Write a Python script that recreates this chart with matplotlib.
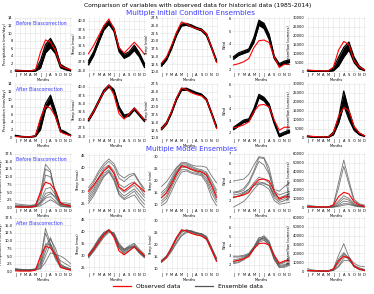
import matplotlib
matplotlib.use("Agg")
import matplotlib.pyplot as plt
from matplotlib.lines import Line2D
from matplotlib.ticker import FormatStrFormatter

months = ['J', 'F', 'M', 'A', 'M', 'J', 'J', 'A', 'S', 'O', 'N', 'D']

# Observed data (same in every row)
obs_precip = [0.2, 0.1, 0.1, 0.1, 0.4, 5.0, 8.2, 7.6, 5.4, 1.4, 0.8, 0.4]
obs_tmax = [30.0, 32.5, 35.5, 38.5, 40.6, 37.5, 31.8, 30.2, 31.8, 33.5, 31.8, 29.8]
obs_tmin = [12.8, 14.8, 18.5, 22.8, 26.2, 25.6, 24.6, 24.0, 23.6, 22.3, 18.0, 13.0]
obs_wind = [2.35, 2.45, 2.6, 2.85, 3.7, 4.25, 4.3, 4.1, 3.0, 2.15, 2.4, 2.4]
obs_flow = [800, 600, 400, 300, 300, 2500, 12000, 16800, 15000, 6000, 2500, 900]

# Multiple initial condition ensembles: lower / middle / upper members
ic_before_precip = [[0.05, 0.0, 0.0, 0.0, 0.05, 0.8, 4.8, 6.2, 4.6, 0.9, 0.4, 0.1],
                    [0.15, 0.1, 0.05, 0.05, 0.1, 1.6, 5.8, 7.2, 5.4, 1.3, 0.7, 0.2],
                    [0.3, 0.2, 0.15, 0.15, 0.3, 2.8, 7.0, 8.6, 6.2, 1.8, 1.0, 0.4]]
ic_after_precip = [[0.3, 0.15, 0.05, 0.05, 0.2, 2.0, 7.3, 9.0, 5.4, 1.4, 1.0, 0.4],
                   [0.4, 0.2, 0.1, 0.1, 0.3, 3.0, 8.0, 9.9, 6.1, 1.7, 1.2, 0.5],
                   [0.5, 0.25, 0.15, 0.15, 0.4, 4.5, 8.8, 11.0, 7.0, 2.0, 1.4, 0.6]]
ic_before_tmax = [[26.6, 29.4, 33.4, 37.2, 39.0, 36.8, 30.6, 28.6, 29.4, 31.0, 29.0, 25.8],
                  [27.2, 30.0, 34.0, 37.8, 39.5, 37.3, 31.2, 29.2, 30.0, 31.8, 29.6, 26.4],
                  [27.8, 30.6, 34.6, 38.4, 40.0, 37.8, 31.8, 29.8, 30.6, 32.6, 30.2, 27.0]]
ic_after_tmax = [[29.6, 32.2, 35.3, 38.4, 40.0, 38.4, 33.0, 30.6, 31.2, 33.0, 31.2, 29.4],
                 [29.9, 32.5, 35.6, 38.7, 40.3, 38.8, 33.5, 31.0, 31.5, 33.3, 31.5, 29.7],
                 [30.2, 32.8, 35.9, 39.0, 40.6, 39.2, 34.0, 31.4, 31.8, 33.6, 31.8, 30.0]]
ic_before_tmin = [[11.8, 13.8, 17.4, 21.8, 24.9, 25.1, 24.6, 23.9, 23.3, 21.7, 17.6, 13.2],
                  [12.2, 14.1, 17.8, 22.2, 25.2, 25.4, 24.9, 24.1, 23.6, 22.0, 17.9, 13.5],
                  [12.6, 14.4, 18.2, 22.6, 25.5, 25.7, 25.2, 24.4, 23.9, 22.4, 18.2, 13.8]]
ic_after_tmin = [[12.6, 14.4, 17.9, 22.3, 25.4, 25.5, 25.0, 24.3, 23.8, 22.1, 17.7, 13.2],
                 [12.9, 14.7, 18.2, 22.6, 25.7, 25.8, 25.2, 24.5, 24.0, 22.4, 18.0, 13.5],
                 [13.2, 15.0, 18.5, 22.9, 26.0, 26.1, 25.4, 24.7, 24.2, 22.7, 18.3, 13.8]]
ic_before_wind = [[2.8, 3.1, 3.25, 3.4, 4.1, 5.45, 5.2, 4.35, 2.85, 2.25, 2.45, 2.55],
                  [2.9, 3.2, 3.35, 3.5, 4.3, 5.65, 5.4, 4.55, 2.95, 2.35, 2.55, 2.65],
                  [3.0, 3.3, 3.45, 3.6, 4.5, 5.85, 5.6, 4.75, 3.05, 2.45, 2.65, 2.75]]
ic_after_wind = [[2.2, 2.5, 2.8, 2.9, 3.65, 4.85, 4.6, 4.05, 2.7, 1.6, 1.8, 1.95],
                 [2.3, 2.6, 2.9, 3.0, 3.8, 5.0, 4.75, 4.2, 2.8, 1.7, 1.9, 2.05],
                 [2.4, 2.7, 3.0, 3.1, 3.95, 5.15, 4.9, 4.35, 2.9, 1.8, 2.0, 2.15]]
ic_before_flow = [[300, 200, 100, 50, 50, 400, 3000, 8000, 12000, 5000, 1500, 500],
                  [450, 300, 200, 100, 150, 1000, 5000, 10500, 14000, 6500, 2200, 750],
                  [600, 400, 300, 200, 300, 2000, 8000, 13500, 16500, 8000, 3000, 1000]]
ic_after_flow = [[400, 250, 150, 50, 100, 1500, 8000, 18000, 10000, 4000, 1500, 600],
                 [600, 350, 200, 100, 200, 2200, 9500, 22000, 12500, 5000, 2000, 800],
                 [800, 450, 300, 200, 300, 3000, 11000, 26000, 15000, 6000, 2500, 1000]]

# Multiple model ensembles: one list per model
mm_before_precip = [[1.2, 1.0, 0.8, 0.7, 0.9, 5.0, 14.0, 12.0, 4.5, 1.5, 1.5, 1.2],
                    [0.8, 0.6, 0.5, 0.5, 0.8, 4.0, 12.5, 11.5, 4.0, 1.2, 1.0, 0.8],
                    [0.5, 0.4, 0.3, 0.3, 0.6, 3.0, 10.5, 10.0, 5.5, 1.5, 0.8, 0.5],
                    [0.3, 0.2, 0.2, 0.2, 0.4, 2.0, 6.0, 6.5, 4.0, 1.0, 0.5, 0.3],
                    [0.2, 0.2, 0.1, 0.1, 0.3, 1.5, 4.5, 5.0, 3.0, 0.8, 0.3, 0.2],
                    [0.2, 0.1, 0.1, 0.1, 0.2, 1.0, 3.0, 3.5, 2.0, 0.5, 0.2, 0.1],
                    [0.1, 0.1, 0.1, 0.1, 0.2, 0.5, 1.5, 2.5, 1.5, 0.4, 0.2, 0.1],
                    [0.4, 0.3, 0.3, 0.3, 0.5, 1.5, 3.5, 4.5, 3.5, 1.0, 1.0, 0.5]]
mm_after_precip = [[0.6, 0.5, 0.5, 0.5, 0.8, 4.0, 14.0, 9.0, 5.0, 1.5, 1.0, 0.6],
                   [0.5, 0.4, 0.4, 0.4, 0.6, 3.0, 12.5, 8.0, 4.0, 1.2, 0.8, 0.5],
                   [0.8, 0.6, 0.5, 0.5, 0.7, 2.0, 8.0, 11.0, 6.0, 2.0, 1.5, 0.8],
                   [0.5, 0.4, 0.3, 0.3, 0.5, 1.5, 6.5, 10.5, 7.5, 2.5, 1.2, 0.6],
                   [0.7, 0.5, 0.4, 0.4, 0.6, 1.0, 5.0, 9.0, 5.5, 5.0, 4.0, 2.5],
                   [0.4, 0.3, 0.3, 0.3, 0.4, 0.8, 3.0, 6.0, 5.5, 3.5, 2.5, 1.5],
                   [0.9, 0.7, 0.6, 0.6, 0.8, 2.5, 9.0, 8.5, 4.5, 1.8, 1.2, 0.9]]
mm_before_tmax = [[31.5, 34.5, 38.5, 41.5, 43.5, 41.5, 37.0, 35.5, 37.0, 37.5, 34.0, 31.0],
                  [30.5, 33.5, 37.5, 40.5, 42.5, 40.5, 35.5, 34.0, 36.0, 37.0, 33.5, 30.0],
                  [29.0, 32.0, 36.0, 39.5, 41.0, 38.5, 33.0, 31.5, 33.0, 34.0, 31.5, 28.5],
                  [28.0, 31.0, 35.0, 38.5, 40.0, 37.5, 31.5, 29.5, 31.0, 32.5, 30.0, 27.5],
                  [27.0, 30.0, 34.0, 37.5, 39.0, 36.0, 30.0, 28.0, 29.5, 31.0, 28.5, 26.0],
                  [26.0, 29.0, 33.0, 36.5, 38.5, 35.0, 29.0, 27.0, 28.5, 30.0, 27.0, 24.5],
                  [25.0, 28.0, 32.0, 36.0, 38.0, 34.5, 28.5, 26.5, 27.5, 28.5, 25.5, 23.0]]
mm_after_tmax = [[30.5, 33.5, 37.0, 39.5, 40.8, 39.0, 34.5, 32.5, 34.0, 35.0, 32.5, 30.5],
                 [30.0, 33.0, 36.5, 39.0, 40.5, 38.5, 34.0, 32.0, 33.5, 34.5, 32.0, 30.0],
                 [29.5, 32.5, 36.0, 39.0, 40.5, 38.0, 33.5, 31.5, 33.0, 34.0, 31.5, 29.5],
                 [29.0, 32.0, 35.5, 38.5, 40.2, 38.5, 33.0, 31.0, 32.5, 34.0, 31.5, 29.5],
                 [29.5, 32.0, 35.0, 38.0, 40.0, 39.0, 34.0, 32.0, 33.0, 33.5, 31.0, 29.0],
                 [29.0, 31.5, 34.5, 37.5, 39.5, 39.5, 35.0, 32.5, 33.5, 33.5, 31.0, 29.5],
                 [30.0, 33.0, 36.5, 39.5, 40.5, 38.0, 33.0, 30.5, 32.0, 33.5, 31.0, 29.0]]
mm_before_tmin = [[17.5, 19.5, 22.5, 25.5, 27.5, 27.5, 26.5, 26.0, 26.0, 25.5, 22.0, 19.0],
                  [15.0, 17.0, 21.0, 25.0, 27.0, 27.0, 26.0, 25.0, 24.5, 23.5, 20.0, 16.0],
                  [14.0, 16.0, 20.0, 24.0, 26.5, 26.5, 25.5, 24.5, 24.0, 23.0, 19.0, 15.0],
                  [13.0, 15.0, 19.5, 23.5, 26.0, 26.0, 25.0, 24.0, 23.5, 22.0, 18.0, 14.0],
                  [11.5, 13.5, 18.0, 22.5, 25.5, 25.5, 24.5, 23.5, 23.0, 21.0, 16.5, 12.0],
                  [10.5, 12.5, 17.0, 21.5, 24.5, 24.5, 23.5, 23.0, 22.5, 20.0, 15.0, 11.0],
                  [9.5, 11.0, 15.5, 20.0, 23.5, 24.0, 23.0, 22.5, 22.0, 19.0, 13.0, 9.5]]
mm_after_tmin = [[13.0, 15.0, 19.0, 23.0, 25.5, 26.0, 25.5, 24.8, 24.5, 23.0, 18.5, 14.0],
                 [13.2, 15.2, 18.5, 22.0, 25.0, 26.0, 25.8, 25.0, 24.5, 23.5, 19.0, 14.5],
                 [12.8, 14.5, 17.5, 21.0, 24.0, 25.5, 25.5, 24.8, 24.5, 23.0, 18.5, 14.0],
                 [13.5, 15.0, 18.0, 22.5, 25.5, 26.2, 25.5, 24.5, 24.0, 22.5, 18.0, 13.5],
                 [13.0, 14.8, 18.8, 23.0, 25.8, 25.8, 25.0, 24.0, 23.5, 22.0, 17.5, 13.0],
                 [12.5, 14.2, 17.0, 20.5, 23.5, 25.0, 25.2, 24.5, 24.2, 22.5, 17.8, 13.2]]
mm_before_wind = [[4.1, 4.2, 4.3, 4.8, 5.8, 6.7, 6.6, 5.5, 3.2, 3.0, 3.5, 3.9],
                  [2.9, 3.0, 3.3, 4.0, 5.2, 6.6, 6.5, 5.0, 3.0, 2.6, 2.8, 3.0],
                  [2.8, 2.9, 3.1, 3.8, 5.0, 6.2, 5.8, 4.8, 2.8, 2.2, 2.4, 2.7],
                  [2.6, 2.7, 2.9, 3.2, 3.9, 4.5, 4.3, 3.9, 2.5, 2.0, 2.2, 2.5],
                  [2.4, 2.5, 2.7, 3.0, 3.6, 4.0, 3.9, 3.6, 2.3, 1.8, 2.0, 2.3],
                  [2.3, 2.5, 2.8, 3.2, 3.6, 3.8, 3.8, 3.6, 2.6, 2.3, 2.5, 2.8],
                  [1.3, 1.6, 1.9, 2.5, 3.2, 3.8, 3.6, 3.2, 2.0, 1.6, 1.7, 1.8]]
mm_after_wind = [[2.9, 2.9, 3.0, 3.2, 3.9, 4.8, 5.1, 4.5, 3.0, 2.1, 2.3, 2.8],
                 [2.8, 2.8, 2.9, 3.1, 3.8, 4.6, 5.0, 4.4, 2.8, 1.9, 2.0, 2.2],
                 [2.5, 2.6, 2.8, 3.0, 3.7, 4.6, 4.9, 4.2, 2.6, 1.7, 1.8, 2.0],
                 [2.3, 2.5, 2.7, 3.1, 3.9, 4.9, 4.7, 4.0, 2.5, 1.7, 1.7, 1.9],
                 [2.2, 2.3, 2.6, 3.0, 3.7, 4.4, 4.6, 4.1, 2.8, 2.0, 2.2, 2.6],
                 [2.1, 2.2, 2.5, 2.9, 3.6, 4.5, 4.8, 4.3, 2.7, 1.8, 1.9, 2.1]]
mm_before_flow = [[2500, 1500, 800, 500, 500, 3000, 28000, 53000, 30000, 9000, 4000, 2500],
                  [1500, 1000, 600, 400, 400, 2500, 22000, 46000, 26000, 7000, 3000, 1500],
                  [800, 500, 300, 200, 300, 1500, 7000, 13000, 10000, 4000, 2000, 1000],
                  [600, 400, 200, 100, 200, 1000, 5000, 10000, 8000, 3000, 1500, 800],
                  [400, 300, 100, 50, 100, 500, 3000, 7000, 6000, 2500, 1000, 500],
                  [300, 200, 100, 50, 100, 300, 2000, 4000, 4000, 2000, 800, 400],
                  [200, 100, 50, 0, 50, 200, 1000, 2500, 3000, 1500, 600, 300]]
mm_after_flow = [[3000, 1500, 800, 500, 500, 3000, 18000, 31000, 16000, 6000, 3000, 2000],
                 [1500, 800, 500, 300, 400, 2500, 14000, 21000, 14000, 5000, 2500, 1500],
                 [1000, 600, 400, 200, 300, 2000, 11000, 20000, 15000, 6000, 2000, 1000],
                 [800, 500, 300, 200, 200, 1500, 9000, 18000, 13000, 5000, 1800, 800],
                 [600, 400, 200, 100, 200, 1000, 6000, 15000, 16000, 9000, 6000, 5000],
                 [500, 300, 200, 100, 100, 800, 5000, 12000, 12000, 7000, 4000, 2000]]

ylabels = ['Precipitation (mm/day)', 'Temp (max)', 'Temp (min)', 'Wind', 'Streamflow (cumecs)']
obs_all = [obs_precip, obs_tmax, obs_tmin, obs_wind, obs_flow]
rows = [
    ('ic', 'Before Biascorrection', [ic_before_precip, ic_before_tmax, ic_before_tmin, ic_before_wind, ic_before_flow]),
    ('ic', 'After Biascorrection', [ic_after_precip, ic_after_tmax, ic_after_tmin, ic_after_wind, ic_after_flow]),
    ('mm', 'Before Biascorrection', [mm_before_precip, mm_before_tmax, mm_before_tmin, mm_before_wind, mm_before_flow]),
    ('mm', 'After Biascorrection', [mm_after_precip, mm_after_tmax, mm_after_tmin, mm_after_wind, mm_after_flow]),
]

# y limits / ticks per row and column
ylims = [
    [(-0.2, 14.2), (24.4, 41.2), (9.9, 27.8), (1.8, 6.1), (-300, 30500)],
    [(-0.2, 14.2), (24.4, 41.2), (9.9, 27.8), (1.5, 6.1), (-300, 30500)],
    [(-0.2, 17.7), (23.0, 46.0), (8.5, 31.5), (1.2, 7.1), (-800, 61000)],
    [(-0.2, 17.7), (23.0, 46.0), (8.5, 31.5), (1.2, 7.1), (-800, 61000)],
]
yticks = [
    [range(0, 15, 2), [25, 27.5, 30, 32.5, 35, 37.5, 40], [10, 12.5, 15, 17.5, 20, 22.5, 25, 27.5], range(2, 7), range(0, 30001, 5000)],
    [range(0, 15, 2), [25, 27.5, 30, 32.5, 35, 37.5, 40], [10, 12.5, 15, 17.5, 20, 22.5, 25, 27.5], range(2, 7), range(0, 30001, 5000)],
    [[0, 2.5, 5, 7.5, 10, 12.5, 15, 17.5], range(25, 46, 5), range(10, 31, 5), range(2, 8), range(0, 60001, 10000)],
    [[0, 2.5, 5, 7.5, 10, 12.5, 15, 17.5], range(25, 46, 5), range(10, 31, 5), range(2, 8), range(0, 60001, 10000)],
]
yfmt = [
    ['%d', '%.1f', '%.1f', '%d', '%d'],
    ['%d', '%.1f', '%.1f', '%d', '%d'],
    ['%.1f', '%d', '%d', '%d', '%d'],
    ['%.1f', '%d', '%d', '%d', '%d'],
]

W, H = 374, 294
fig = plt.figure(figsize=(W / 100, H / 100), dpi=100)

col_left = [14, 87, 160, 232, 306]
col_width = [58, 59, 58, 59, 60]
row_top = [17, 83, 153, 217]
row_height = 55
blue = '#3a3aff'
x = range(12)

for r, (kind, tag, ens_list) in enumerate(rows):
    for c in range(5):
        ax = fig.add_axes([col_left[c] / W, (H - row_top[r] - row_height) / H,
                           col_width[c] / W, row_height / H])
        ax.set_facecolor('white')
        ax.grid(True, color='#e4e4e4', linewidth=0.4)
        ax.set_axisbelow(True)
        for s in ax.spines.values():
            s.set_visible(False)
        ax.tick_params(length=0, labelsize=2.6, pad=1.0)

        ens = ens_list[c]
        if kind == 'ic':
            ax.fill_between(x, ens[0], ens[-1], color='black', linewidth=0)
            for member in ens:
                ax.plot(x, member, color='black', linewidth=0.9)
        else:
            for member in ens:
                ax.plot(x, member, color='#555555', linewidth=0.6, alpha=0.8)
        ax.plot(x, obs_all[c], color='red', linewidth=0.8)

        ax.set_xticks(list(x))
        ax.set_xticklabels(months)
        ax.set_xlim(-0.3, 11.3)
        ax.set_ylim(*ylims[r][c])
        ax.set_yticks(list(yticks[r][c]))
        ax.yaxis.set_major_formatter(FormatStrFormatter(yfmt[r][c]))
        ax.set_xlabel('Months', fontsize=2.6, labelpad=0.3)
        ax.set_ylabel(ylabels[c], fontsize=2.6, labelpad=1.0)
        if c == 0:
            ax.text(0.04, 0.93, tag, transform=ax.transAxes, color=blue,
                    fontsize=3.4, va='top', ha='left')

fig.text(198 / W, 1 - 5 / H, 'Comparison of variables with observed data for historical data (1985-2014)',
         ha='center', va='center', fontsize=4.3)
fig.text(190 / W, 1 - 13 / H, 'Multiple Initial Condition Ensembles',
         ha='center', va='center', fontsize=5.2, color=blue)
fig.text(191 / W, 1 - 149.5 / H, 'Multiple Model Ensembles',
         ha='center', va='center', fontsize=5.0, color=blue)

handles = [Line2D([], [], color='red', linewidth=0.9),
           Line2D([], [], color='#555555', linewidth=0.9)]
fig.legend(handles, ['Observed data', 'Ensemble data'], loc='center',
           bbox_to_anchor=(188 / W, 1 - 286 / H), ncol=2, frameon=False,
           fontsize=4.3, handlelength=3, columnspacing=2.5)

fig.savefig('out.png', dpi=100)
